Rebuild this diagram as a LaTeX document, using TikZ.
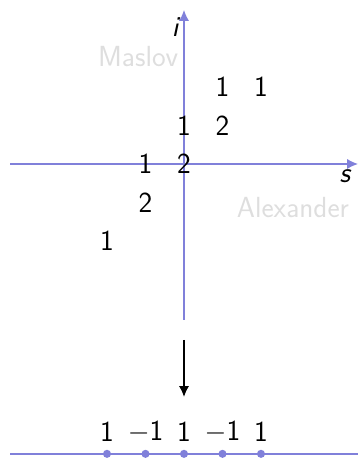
\documentclass[tikz,border=0pt]{standalone}
\usepackage{xcolor}
\usepackage{tikz}
\usetikzlibrary{arrows.meta, positioning}
\definecolor{axiscol}{RGB}{128,128,218}
\definecolor{gradecol}{RGB}{222,222,222}

\begin{document}
\begin{tikzpicture}[
    axis/.style={draw=axiscol, line width=1pt, -{Latex[length=8pt,width=7.5pt]}},
    entry/.style={font=\fontsize{21.5}{25}\selectfont\sffamily, inner sep=0pt},
    varlabel/.style={font=\fontsize{21.5}{25}\selectfont\sffamily\itshape, inner sep=0pt},
    gradename/.style={text=gradecol, font=\fontsize{21.5}{25}\selectfont\sffamily, inner sep=0pt},
    dot/.style={circle, fill=axiscol, minimum size=6pt, inner sep=0pt},
]
\useasboundingbox (-4.78,-7.69) rectangle (4.545,4.26);

% ── Axes ────────────────────────────────────────────────────────────────────
\coordinate (sL) at (-4.52,0);
\coordinate (sR) at (4.52,0);
\coordinate (iB) at (0,-4.05);
\coordinate (iT) at (0,4.0);
\draw[axis] (sL) -- (sR);
\draw[axis] (iB) -- (iT);

\node[varlabel] (ilab) at (-0.23,3.56) {i};
\node[varlabel] (slab) at (4.18,-0.31) {s};
\node[gradename] (maslov) at (-1.19,2.8)   {Maslov};
\node[gradename] (alex)   at (2.83,-1.14)  {Alexander};

% ── Ranks at (s,i) ──────────────────────────────────────────────────────────
\node[entry] (r12)  at (1,2)   {1};
\node[entry] (r22)  at (2,2)   {1};
\node[entry] (r01)  at (0,1)   {1};
\node[entry] (r11)  at (1,1)   {2};
\node[entry] (rm10) at (-1,0)  {1};
\node[entry] (r00)  at (0,0)   {2};
\node[entry] (rm1m1) at (-1,-1) {2};
\node[entry] (rm2m2) at (-2,-2) {1};

% ── Collapse arrow ──────────────────────────────────────────────────────────
\coordinate (top) at (0,-4.57);
\coordinate (bot) at (0,-6.05);
\draw[-{Latex[length=8pt,width=7.5pt]}, line width=0.9pt] (top) -- (bot);

% ── Line with Euler characteristic ──────────────────────────────────────────
\coordinate (lL) at (-4.52,-7.53);
\coordinate (lR) at (4.52,-7.53);
\draw[axiscol, line width=1pt] (lL) -- (lR);

\foreach \x in {-2,-1,0,1,2}
    \node[dot] (d\x) at (\x,-7.53) {};

\node[entry] (e1) at (-2,-6.96) {1};
\node[entry] (e2) at (-1,-6.96) {$-$1};
\node[entry] (e3) at (0,-6.96)  {1};
\node[entry] (e4) at (1,-6.96)  {$-$1};
\node[entry] (e5) at (2,-6.96)  {1};

\end{tikzpicture}
\end{document}
